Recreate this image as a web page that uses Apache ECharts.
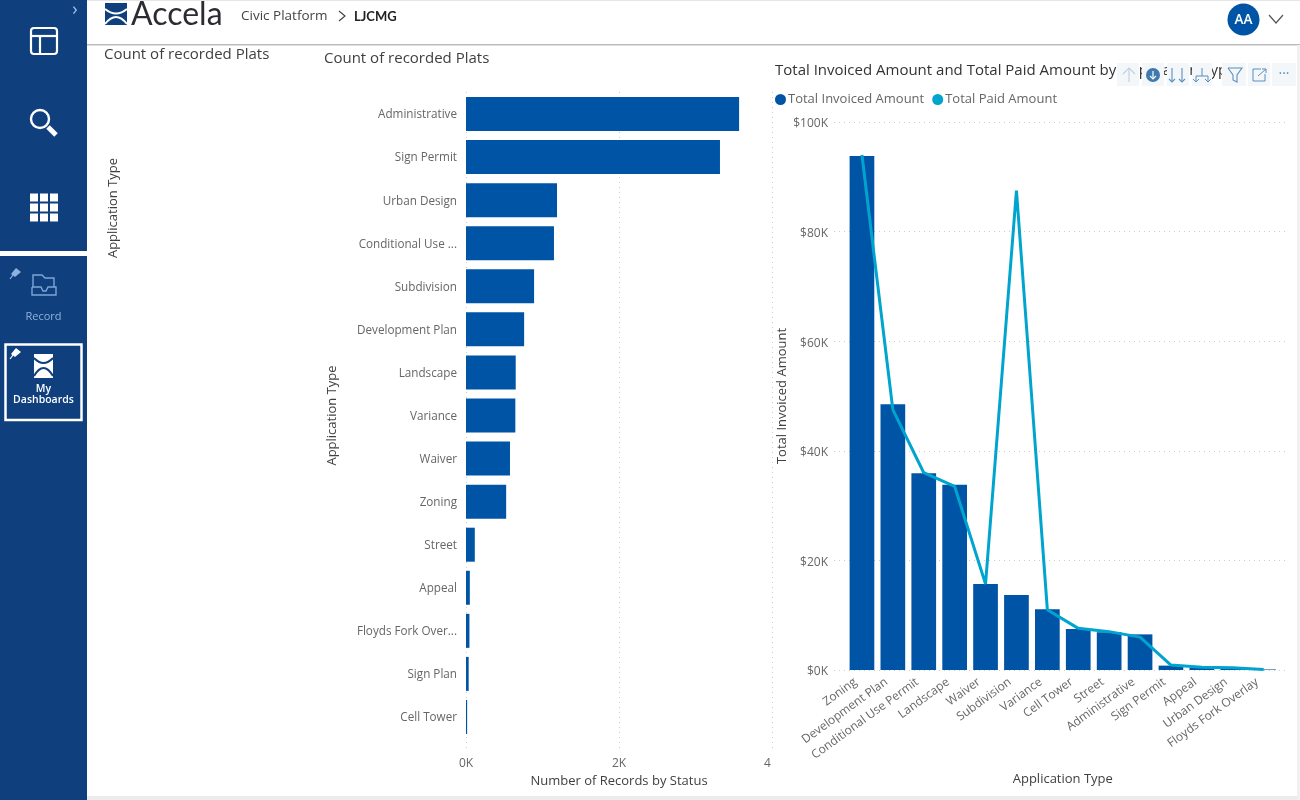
<!DOCTYPE html>
<html><head><meta charset="utf-8">
<style>html,body{margin:0;padding:0;background:#fff}#c{width:1300px;height:800px}</style>
<script src="https://cdn.jsdelivr.net/npm/echarts@6/dist/echarts.min.js"></script></head>
<body><div id="c"></div>
<script>
const statusCategories = ['Administrative','Sign Permit','Urban Design','Conditional Use ...','Subdivision','Development Plan','Landscape','Variance','Waiver','Zoning','Street','Appeal','Floyds Fork Over...','Sign Plan','Cell Tower'];
const statusRecords = [3570,3320,1190,1150,890,760,650,645,575,525,115,50,45,35,15];
const amountCategories = ['Zoning','Development Plan','Conditional Use Permit','Landscape','Waiver','Subdivision','Variance','Cell Tower','Street','Administrative','Sign Permit','Appeal','Urban Design','Floyds Fork Overlay'];
const invoiced = [93800,48500,35900,33800,15700,13700,11100,7500,6900,6500,800,400,400,100];
const paid = [94000,47500,36000,33500,15700,87500,11000,7600,7000,6000,900,500,400,100];

const NAVY='#0f3f7d', BLUE='#0054a6', CYAN='#00a5cf', GREY='#666666', DARK='#3f3f3f';
const LABEL='"Open Sans",sans-serif', HEAD='"Open Sans",sans-serif';
const rect=(x,y,w,h,fill,extra={})=>({type:'rect',shape:{x,y,width:w,height:h,r:extra.r||0},style:{fill:fill,stroke:extra.stroke,lineWidth:extra.lw||0},z:extra.z||1});
const line=(x1,y1,x2,y2,stroke,lw=2,z=3)=>({type:'line',shape:{x1,y1,x2,y2},style:{stroke,lineWidth:lw},z});
const poly=(points,stroke,lw=1.2,z=3)=>({type:'polyline',shape:{points},style:{fill:'none',stroke,lineWidth:lw},z});
const fillPoly=(points,fill,z=3)=>({type:'polygon',shape:{points},style:{fill},z});
const curve=(x1,y1,cpx1,cpy1,x2,y2,stroke,lw=2,z=4)=>({type:'bezierCurve',shape:{x1,y1,cpx1,cpy1,x2,y2},style:{fill:'none',stroke,lineWidth:lw},z});
const txt=(x,y,t,fill,size,extra={})=>({type:'text',x,y,rotation:extra.rot||0,style:{text:t,fill,font:(extra.w||'400')+' '+size+'px '+(extra.f||LABEL),textAlign:extra.a||'left',textVerticalAlign:'middle'},z:extra.z||3});

const TB='#5b8fbd', Z1=20, Z2=21, Z3=22;
const tile=(x,w)=>rect(x,63,w,23,'#f4f7fa',{z:Z1});
const gfx=[
  rect(0,0,1300,1,'#e6e6e6'),
  rect(0,44,1300,1.5,'#bdbdbd'),
  rect(0,796,1300,4,'#ececec'),
  rect(1297,45,3,755,'#f0f0f0'),
  rect(0,0,87,800,NAVY),
  rect(0,251,87,5,'#ffffff',{z:2}),
  rect(31,28,26,26,'none',{stroke:'#fff',lw:2.2,r:3,z:3}), line(31,36,57,36,'#fff',2.2), line(40,36,40,54,'#fff',2.2),
  {type:'circle',shape:{cx:40,cy:119,r:9},style:{fill:'none',stroke:'#fff',lineWidth:2.4},z:3},
  line(48,127,56,135,'#fff',5),
  ...[0,1,2].flatMap(r=>[0,1,2].map(c=>rect(30+c*10,193.5+r*10,8,8,'#fff',{z:3}))),
  txt(75,10,'›','#9fc0e8',18,{a:'center'}),
  poly([[33,287],[33,275],[42,275],[45,278],[54,278],[54,287]],'#7ea6d6',1.4),
  poly([[32,287],[41,287],[43,291],[46,291],[48,287],[56,287],[56,295],[32,295],[32,287]],'#7ea6d6',1.4),
  txt(43.5,316.5,'Record','#8fb2de',11,{a:'center'}),
  fillPoly([[11,274],[16,268],[21,272],[15,277]],'#8fb2de'), line(13,275,10,279,'#8fb2de',1.2),
  rect(5.5,344.5,76,75.5,'none',{stroke:'#fff',lw:2.5,z:3}),
  fillPoly([[11,354],[16,348],[21,352],[15,357]],'#fff'), line(13,355,10,359,'#fff',1.2),
  rect(34,354,19,24,'#fff',{z:3}),
  curve(34,358,43.5,368,53,358,NAVY,2), curve(34,376,43.5,360,53,376,NAVY,2),
  txt(43.5,389.5,'My','#fff',10.5,{a:'center',w:'600'}),
  txt(43.5,400,'Dashboards','#fff',10.5,{a:'center',w:'600'}),
  rect(105,3,22,22,NAVY,{z:3}),
  curve(105,9,116,18,127,9,'#fff',2), curve(105,24,116,10,127,24,'#fff',2),
  txt(131,15,'Accela','#2b2b33',32,{f:'Lato,sans-serif'}),
  txt(241,16.5,'Civic Platform','#444',13.5,{f:HEAD}),
  poly([[339,11],[345,16],[339,21]],'#444',1.2),
  txt(354,17,'LJCMG','#222',13,{w:'700',f:'Lato,sans-serif'}),
  {type:'circle',shape:{cx:1243.5,cy:19.5,r:16},style:{fill:BLUE},z:3},
  txt(1243.5,20,'AA','#fff',13.5,{a:'center',w:'600'}),
  poly([[1269,15],[1276,23],[1283,15]],'#555',1.2),
  txt(104,55,'Count of recorded Plats',DARK,15,{f:HEAD}),
  txt(113,208,'Application Type',DARK,13,{rot:Math.PI/2,a:'center',f:HEAD}),
  tile(1117,22), tile(1142,22), tile(1167,22), tile(1192,20), tile(1222,24), tile(1248,22), tile(1272,24),
  poly([[1129,68],[1129,82]],'#c3d0de',1.2,Z2), poly([[1123,74],[1129,68],[1135,74]],'#c3d0de',1.2,Z2),
  {type:'circle',shape:{cx:1153,cy:75,r:7},style:{fill:'#3f79ae'},z:Z2},
  poly([[1153,71],[1153,79]],'#fff',1.2,Z3), poly([[1150,76],[1153,79],[1156,76]],'#fff',1.2,Z3),
  poly([[1172,68],[1172,82]],TB,1.1,Z2), poly([[1169,79],[1172,82],[1175,79]],TB,1.1,Z2),
  poly([[1182,68],[1182,82]],TB,1.1,Z2), poly([[1179,79],[1182,82],[1185,79]],TB,1.1,Z2),
  poly([[1196,82],[1196,76],[1208,76],[1208,82]],TB,1,Z2), poly([[1202,68],[1202,76]],TB,1,Z2),
  poly([[1193,79],[1196,82],[1199,79]],TB,1,Z2), poly([[1205,79],[1208,82],[1211,79]],TB,1,Z2),
  poly([[1228,68],[1242,68],[1237,75],[1237,82],[1233,80],[1233,75],[1228,68]],TB,1.1,Z2),
  poly([[1261,69],[1253,69],[1253,81],[1265,81],[1265,74]],TB,1,Z2), poly([[1258,76],[1266,69]],TB,1,Z2), poly([[1262,69],[1266,69],[1266,73]],TB,1,Z2),
  txt(1284,74,'···',TB,14,{a:'center',z:Z2})
];

const chart=echarts.init(document.getElementById('c'),null,{renderer:'canvas'});
const dotted={show:true,lineStyle:{color:'#cccccc',type:[1,4],width:1}};
const hide={show:false};
const nameStyle={fontFamily:HEAD,fontSize:13,color:DARK,fontWeight:500};
chart.setOption({
  animation:false,
  backgroundColor:'#fff',
  textStyle:{fontFamily:LABEL},
  title:[
    {text:'Count of recorded Plats',left:324,top:51,padding:0,textStyle:{fontFamily:HEAD,fontWeight:400,fontSize:15,color:DARK}},
    {text:'Total Invoiced Amount and Total Paid Amount by Application Type',left:775,top:63,padding:0,textStyle:{fontFamily:HEAD,fontWeight:400,fontSize:15,color:'#333'}}
  ],
  legend:{left:775,top:93,itemWidth:11,itemHeight:11,itemGap:8,icon:'circle',padding:0,
    data:['Total Invoiced Amount','Total Paid Amount'],
    textStyle:{fontFamily:LABEL,fontSize:13,color:GREY,padding:[0,0,0,-3]}},
  grid:[
    {left:466,top:92.5,width:306,height:646},
    {left:466,top:92,width:306,height:660},
    {left:846.5,top:122,width:432.6,height:548},
    {left:834,top:122,width:453,height:548}
  ],
  xAxis:[
    {gridIndex:0,type:'value',min:0,max:4000,show:false},
    {gridIndex:1,type:'value',min:0,max:4000,interval:2000,splitLine:dotted,axisLine:hide,axisTick:hide,
      name:'Number of Records by Status',nameLocation:'middle',nameGap:20,nameTextStyle:nameStyle,
      axisLabel:{color:GREY,fontSize:12,margin:6,showMaxLabel:true,
        formatter:v=>v===4000?'4\u00a0\u00a0\u00a0':(v/1000)+'K'}},
    {gridIndex:2,type:'category',data:amountCategories,axisLine:hide,axisTick:hide,
      name:'Application Type',nameLocation:'middle',nameGap:103,nameTextStyle:nameStyle,
      axisLabel:{interval:0,rotate:36,color:GREY,fontSize:12,margin:6,padding:[0,8,0,0]}},
    {gridIndex:3,type:'value',min:0,max:1,show:false}
  ],
  yAxis:[
    {gridIndex:0,type:'category',inverse:true,data:statusCategories,axisLine:hide,axisTick:hide,
      name:'Application Type',nameLocation:'middle',nameGap:127,nameTextStyle:nameStyle,
      axisLabel:{interval:0,color:GREY,fontSize:11.7,margin:9,verticalAlign:'top',lineHeight:2}},
    {gridIndex:1,type:'value',min:0,max:1,show:false},
    {gridIndex:2,type:'value',min:0,max:100000,show:false},
    {gridIndex:3,type:'value',min:0,max:100000,interval:20000,splitLine:dotted,axisLine:hide,axisTick:hide,
      name:'Total Invoiced Amount',nameLocation:'middle',nameGap:45,nameTextStyle:nameStyle,
      axisLabel:{color:GREY,fontSize:12,margin:6,verticalAlign:'top',lineHeight:4,formatter:v=>'$'+(v/1000)+'K'}}
  ],
  series:[
    {name:'Number of Records by Status',type:'bar',xAxisIndex:0,yAxisIndex:0,data:statusRecords,barWidth:34,itemStyle:{color:BLUE},silent:true},
    {name:'Total Invoiced Amount',type:'bar',xAxisIndex:2,yAxisIndex:2,data:invoiced,barWidth:24.7,itemStyle:{color:BLUE},silent:true},
    {name:'Total Paid Amount',type:'line',xAxisIndex:2,yAxisIndex:2,data:paid,showSymbol:false,symbol:'none',lineStyle:{color:CYAN,width:3},itemStyle:{color:CYAN},silent:true,z:5}
  ],
  graphic:{elements:gfx}
});
</script></body></html>
